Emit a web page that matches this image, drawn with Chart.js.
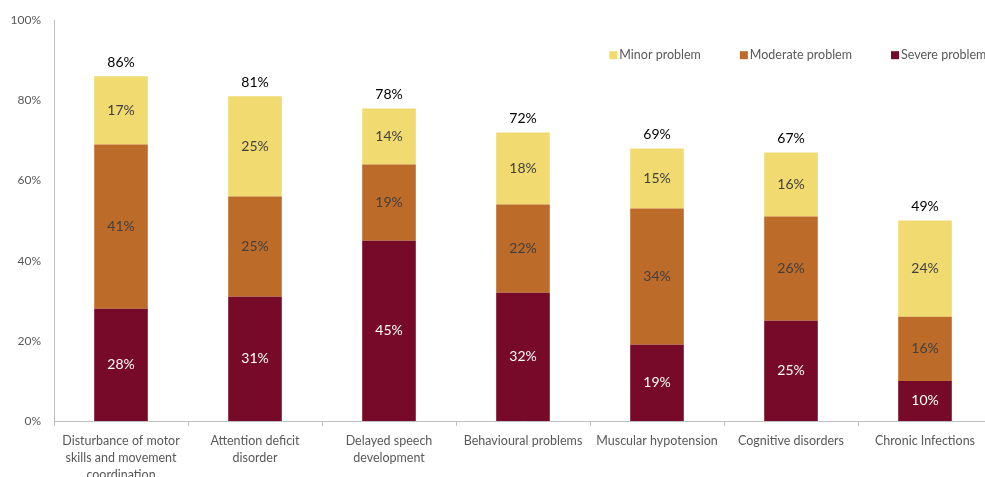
<!DOCTYPE html>
<html>
<head>
<meta charset="utf-8">
<script src="https://cdn.jsdelivr.net/npm/chart.js@4/dist/chart.umd.min.js"></script>
<style>
  body { margin: 0; overflow: hidden; background: #fff; }
  #wrap { width: 1000px; height: 477px; }
</style>
</head>
<body>
<div id="wrap"><canvas id="myChart"></canvas></div>
<script>
const categories = [
    ["Disturbance of motor", "skills and movement", "coordination"],
    ["Attention deficit", "disorder"],
    ["Delayed speech", "development"],
    "Behavioural problems",
    "Muscular hypotension",
    "Cognitive disorders",
    "Chronic Infections"
];
const severe = [28, 31, 45, 32, 19, 25, 10];
const moderate = [41, 25, 19, 22, 34, 26, 16];
const minor = [17, 25, 14, 18, 15, 16, 24];
const totals = [86, 81, 78, 72, 69, 67, 49];
const yTicks = [0, 20, 40, 60, 80, 100];

const fontFamily = "Lato, 'Open Sans', sans-serif";
const grayText = "#595959";

// draws the % inside each segment and the total above the bar
const labelPlugin = {
    id: "labelPlugin",
    afterDatasetsDraw(chart) {
        const ctx = chart.ctx;
        ctx.save();
        ctx.textAlign = "center";
        ctx.textBaseline = "middle";
        ctx.font = "14px " + fontFamily;
        chart.data.datasets.forEach(function (ds, i) {
            const meta = chart.getDatasetMeta(i);
            meta.data.forEach(function (bar, j) {
                const mid = (bar.y + bar.base) / 2;
                ctx.fillStyle = i === 0 ? "#ffffff" : "#404040";
                ctx.fillText(ds.data[j] + "%", bar.x, mid);
            });
        });
        const top = chart.getDatasetMeta(2);
        ctx.fillStyle = "#000000";
        ctx.font = "14px " + fontFamily;
        top.data.forEach(function (bar, j) {
            ctx.fillText(totals[j] + "%", bar.x, bar.y - 14);
        });
        ctx.restore();
    }
};

// legend in the top right corner, minor first
const legendPlugin = {
    id: "legendPlugin",
    afterDraw(chart) {
        const ctx = chart.ctx;
        const area = chart.chartArea;
        const order = [2, 1, 0];
        const gap = 39;
        ctx.save();
        ctx.font = "12.5px " + fontFamily;
        ctx.textBaseline = "middle";
        let widths = order.map(function (i) {
            return 10 + ctx.measureText(chart.data.datasets[i].label).width;
        });
        // last square sits about 101px left of the plot's right edge
        let x = area.right - 101 - (widths[0] + widths[1] + 2 * gap);
        const y = area.top + 35;
        order.forEach(function (i, k) {
            ctx.fillStyle = chart.data.datasets[i].backgroundColor;
            ctx.fillRect(x, y - 4, 8, 8);
            ctx.fillStyle = grayText;
            ctx.fillText(chart.data.datasets[i].label, x + 10, y);
            x += widths[k] + gap;
        });
        ctx.restore();
    }
};

const myChart = document.getElementById("myChart").getContext("2d");

const barChart = new Chart(myChart, {
    type: "bar",
    data: {
        labels: categories,
        datasets: [
            { label: "Severe problem", data: severe, backgroundColor: "#760A28" },
            { label: "Moderate problem", data: moderate, backgroundColor: "#BD6B28" },
            { label: "Minor problem", data: minor, backgroundColor: "#F1DA6F" }
        ]
    },
    options: {
        responsive: true,
        maintainAspectRatio: false,
        animation: false,
        categoryPercentage: 1,
        barPercentage: 0.4,
        layout: { padding: { top: 20, right: 8, left: 0, bottom: 0 } },
        plugins: {
            legend: { display: false },
            tooltip: { enabled: false }
        },
        scales: {
            x: {
                stacked: true,
                grid: {
                    offset: true,
                    drawOnChartArea: false,
                    drawTicks: true,
                    tickLength: 5,
                    color: "#BFBFBF"
                },
                border: { color: "#BFBFBF" },
                ticks: {
                    color: grayText,
                    font: { family: fontFamily, size: 12.5, lineHeight: 1.38 },
                    maxRotation: 0,
                    autoSkip: false,
                    padding: 6
                },
                afterFit(scale) { scale.height = 56; }
            },
            y: {
                stacked: true,
                min: 0,
                max: 100,
                afterBuildTicks(scale) {
                    scale.ticks = yTicks.map(function (v) { return { value: v }; });
                },
                grid: { display: false, drawTicks: false },
                border: { color: "#BFBFBF" },
                ticks: {
                    color: grayText,
                    font: { family: fontFamily, size: 12 },
                    padding: 13,
                    callback: function (v) { return v + "%"; }
                },
                afterFit(scale) { scale.width = 54; }
            }
        }
    },
    plugins: [labelPlugin, legendPlugin]
});
</script>
</body>
</html>
